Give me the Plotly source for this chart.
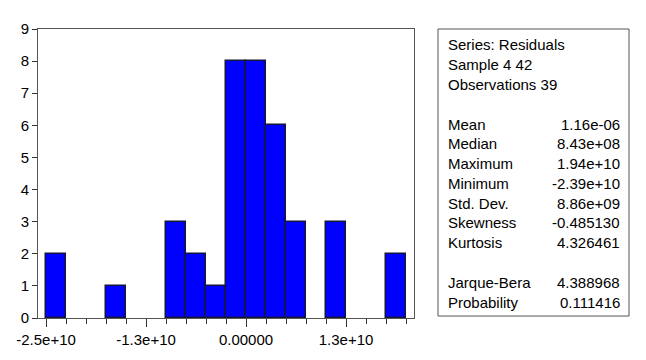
import plotly.graph_objects as go

# Histogram data (bin width 2.5e9)
bin_centers = [-2.375e10, -1.625e10, -8.75e9, -6.25e9, -3.75e9, -1.25e9,
               1.25e9, 3.75e9, 6.25e9, 1.125e10, 1.875e10]
counts = [2, 1, 3, 2, 1, 8, 8, 6, 3, 3, 2]
bin_width = 2.5e9

x_tick_vals = [-2.5e10, -1.25e10, 0, 1.25e10]
x_tick_text = ["-2.5e+10", "-1.3e+10", "0.00000", "1.3e+10"]

header_lines = ["Series: Residuals", "Sample 4 42", "Observations 39"]
stat_labels = ["Mean", "Median", "Maximum", "Minimum", "Std. Dev.", "Skewness", "Kurtosis"]
stat_values = ["1.16e-06", "8.43e+08", "1.94e+10", "-2.39e+10", "8.86e+09", "-0.485130", "4.326461"]
test_labels = ["Jarque-Bera", "Probability"]
test_values = ["4.388968", "0.111416"]

W, H = 646, 360
ml, mr, mt, mb = 38, 232, 29, 39
pw = W - ml - mr
ph = H - mt - mb

def px(xp):
    return (xp - ml) / pw

def py(yp):
    return (H - mb - yp) / ph

FONT = "Liberation Sans, Arial, sans-serif"

fig = go.Figure()
fig.add_trace(go.Bar(
    x=bin_centers, y=counts, width=[bin_width] * len(counts),
    marker=dict(color="#0000FF", line=dict(color="#14143c", width=1.5)),
))

fig.update_layout(
    width=W, height=H,
    margin=dict(l=ml, r=mr, t=mt, b=mb),
    paper_bgcolor="white", plot_bgcolor="white",
    showlegend=False,
    font=dict(family=FONT, size=15, color="black"),
    bargap=0,
)
fig.update_xaxes(
    range=[-2.6e10, 2.1e10], tickvals=x_tick_vals, ticktext=x_tick_text,
    ticks="outside", ticklen=8, tickcolor="#333", tickwidth=1,
    minor=dict(dtick=bin_width, tick0=0, ticks="outside", ticklen=5, tickcolor="#333"),
    showgrid=False, zeroline=False, showline=True, linecolor="#555", linewidth=1,
    mirror=True, tickfont=dict(size=15),
)
fig.update_yaxes(
    range=[0, 9], dtick=1, ticks="outside", ticklen=5, tickcolor="#333",
    showgrid=False, zeroline=False, showline=True, linecolor="#555", linewidth=1,
    mirror=True, tickfont=dict(size=15),
)

# stats box
fig.add_shape(type="rect", xref="paper", yref="paper",
              x0=px(438), x1=px(629), y0=py(319), y1=py(29),
              line=dict(color="#555", width=1), fillcolor="white")

label_x = px(446)
value_x = px(622)

def add_text(text, x, y, anchor):
    fig.add_annotation(text=text, xref="paper", yref="paper", x=x, y=py(y),
                       xanchor=anchor, yanchor="middle", showarrow=False,
                       font=dict(size=15, family=FONT, color="black"))

y0 = 45
for i, t in enumerate(header_lines):
    add_text(t, label_x, y0 + 20 * i, "left")
y0 = 125
for i, (l, v) in enumerate(zip(stat_labels, stat_values)):
    add_text(l, label_x, y0 + 20 * i, "left")
    add_text(v, value_x, y0 + 20 * i, "right")
y0 = 285
for i, (l, v) in enumerate(zip(test_labels, test_values)):
    add_text(l, label_x, y0 + 20 * i, "left")
    add_text(v, value_x, y0 + 20 * i, "right")

fig.write_html("out.html")
